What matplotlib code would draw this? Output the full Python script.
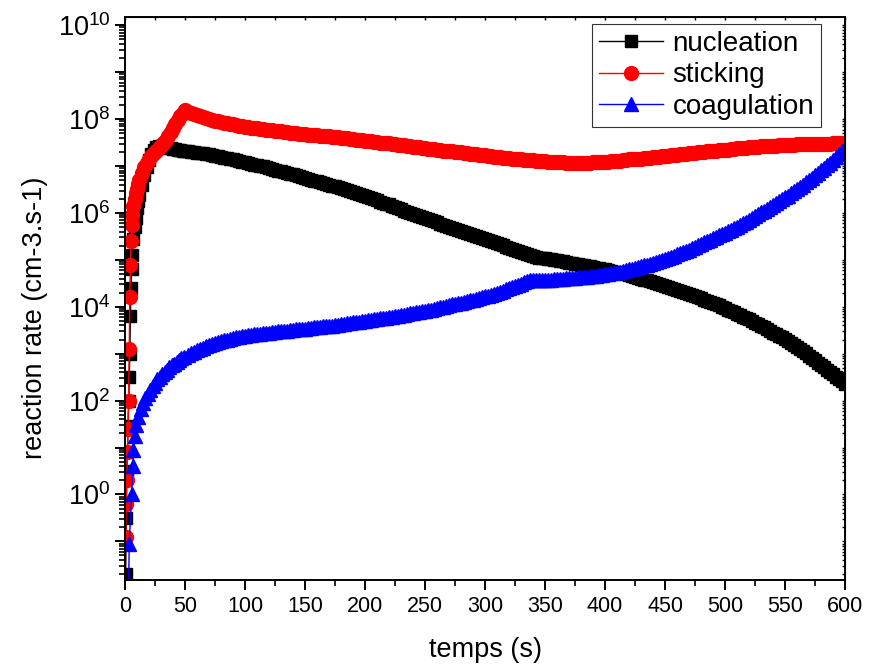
import numpy as np
import matplotlib
matplotlib.use("Agg")
import matplotlib.pyplot as plt
from matplotlib.ticker import LogLocator, MultipleLocator, FuncFormatter, NullFormatter

OUTPUT = "out.png"

plt.rcParams["font.family"] = ["Liberation Sans", "DejaVu Sans"]
plt.rcParams["mathtext.default"] = "regular"

# time grids (s)
t_early = [0, 0.5, 1, 1.5, 2, 2.5, 3, 3.5, 4, 4.5, 5, 5.5, 6,
           7, 8, 9, 10, 11, 12,
           14, 16, 18, 20, 22, 24, 26, 28, 30, 32, 34, 36, 38, 40, 42, 44, 46, 48, 50]
t_coag_early = [2.5, 3.5, 5.5, 6.5, 7, 8.5, 9.5, 11, 13, 15, 17, 19, 21, 23, 25,
                27, 29, 31, 33, 35, 37, 39, 41, 43, 45, 47, 49]
t_late = [52.5 + 2.5 * i for i in range(220)]  # 52.5 ... 600

# log10 of the reaction rates (cm-3.s-1)
nucleation_early = [-3.0, -1.7, -0.5, 0.5, 0.9, 1.45, 2.0, 2.5, 3.0, 3.8, 4.4, 4.8, 5.1,
                    5.45, 5.7, 5.9, 6.1, 6.25, 6.38,
                    6.6, 6.8, 6.98, 7.13, 7.26, 7.35, 7.40, 7.42, 7.42, 7.41, 7.40, 7.39,
                    7.38, 7.37, 7.36, 7.35, 7.34, 7.33, 7.32]
nucleation_late = [
    7.31, 7.30, 7.29, 7.28, 7.27, 7.27, 7.26, 7.25, 7.24, 7.22,   # 52.5 - 75
    7.21, 7.20, 7.18, 7.17, 7.15, 7.14, 7.12, 7.11, 7.09, 7.08,   # 77.5 - 100
    7.06, 7.05, 7.03, 7.02, 7.00, 6.99, 6.97, 6.95, 6.93, 6.92,   # 102.5 - 125
    6.90, 6.89, 6.87, 6.85, 6.83, 6.82, 6.80, 6.78, 6.76, 6.74,   # 127.5 - 150
    6.72, 6.71, 6.69, 6.68, 6.66, 6.64, 6.62, 6.60, 6.58, 6.57,   # 152.5 - 175
    6.55, 6.53, 6.51, 6.49, 6.47, 6.45, 6.43, 6.41, 6.38, 6.36,   # 177.5 - 200
    6.33, 6.31, 6.29, 6.27, 6.24, 6.22, 6.20, 6.18, 6.15, 6.13,   # 202.5 - 225
    6.10, 6.08, 6.05, 6.03, 6.00, 5.98, 5.96, 5.94, 5.91, 5.89,   # 227.5 - 250
    5.87, 5.85, 5.82, 5.80, 5.77, 5.75, 5.73, 5.71, 5.68, 5.66,   # 252.5 - 275
    5.64, 5.62, 5.59, 5.57, 5.55, 5.53, 5.50, 5.48, 5.46, 5.44,   # 277.5 - 300
    5.42, 5.40, 5.37, 5.35, 5.33, 5.31, 5.28, 5.26, 5.24, 5.22,   # 302.5 - 325
    5.19, 5.17, 5.15, 5.13, 5.10, 5.08, 5.06, 5.05, 5.04, 5.03,   # 327.5 - 350
    5.02, 5.01, 5.00, 4.99, 4.98, 4.97, 4.95, 4.94, 4.93, 4.92,   # 352.5 - 375
    4.91, 4.90, 4.88, 4.87, 4.86, 4.85, 4.83, 4.82, 4.81, 4.80,   # 377.5 - 400
    4.78, 4.77, 4.75, 4.74, 4.72, 4.71, 4.69, 4.67, 4.65, 4.64,   # 402.5 - 425
    4.62, 4.60, 4.58, 4.56, 4.54, 4.52, 4.50, 4.48, 4.46, 4.44,   # 427.5 - 450
    4.42, 4.40, 4.38, 4.36, 4.34, 4.32, 4.30, 4.28, 4.25, 4.23,   # 452.5 - 475
    4.20, 4.18, 4.15, 4.13, 4.10, 4.08, 4.05, 4.03, 4.00, 3.97,   # 477.5 - 500
    3.94, 3.91, 3.88, 3.85, 3.82, 3.79, 3.76, 3.73, 3.70, 3.66,   # 502.5 - 525
    3.63, 3.59, 3.56, 3.52, 3.49, 3.45, 3.42, 3.38, 3.35, 3.31,   # 527.5 - 550
    3.27, 3.23, 3.19, 3.15, 3.11, 3.06, 3.01, 2.96, 2.91, 2.86,   # 552.5 - 575
    2.81, 2.76, 2.71, 2.66, 2.61, 2.56, 2.51, 2.46, 2.41, 2.35,   # 577.5 - 600
]

sticking_early = [-3.0, -0.9, -0.2, 0.3, 0.9, 1.4, 2.0, 3.1, 4.2, 4.9, 5.4, 5.75, 5.95,
                  6.15, 6.3, 6.42, 6.52, 6.62, 6.70,
                  6.85, 6.97, 7.07, 7.15, 7.22, 7.28, 7.33, 7.38, 7.43, 7.49, 7.56, 7.64,
                  7.72, 7.81, 7.90, 7.98, 8.06, 8.13, 8.19]
sticking_late = [
    8.16, 8.13, 8.10, 8.08, 8.06, 8.04, 8.02, 8.00, 7.98, 7.97,   # 52.5 - 75
    7.95, 7.94, 7.92, 7.91, 7.90, 7.89, 7.87, 7.86, 7.85, 7.84,   # 77.5 - 100
    7.83, 7.82, 7.81, 7.80, 7.79, 7.78, 7.77, 7.77, 7.76, 7.75,   # 102.5 - 125
    7.74, 7.74, 7.73, 7.72, 7.71, 7.71, 7.70, 7.69, 7.68, 7.68,   # 127.5 - 150
    7.67, 7.67, 7.66, 7.66, 7.65, 7.64, 7.63, 7.63, 7.62, 7.62,   # 152.5 - 175
    7.61, 7.60, 7.59, 7.59, 7.58, 7.57, 7.56, 7.56, 7.55, 7.54,   # 177.5 - 200
    7.53, 7.53, 7.52, 7.51, 7.50, 7.50, 7.49, 7.48, 7.47, 7.46,   # 202.5 - 225
    7.45, 7.45, 7.44, 7.43, 7.42, 7.41, 7.40, 7.40, 7.39, 7.38,   # 227.5 - 250
    7.37, 7.37, 7.36, 7.35, 7.34, 7.33, 7.32, 7.32, 7.31, 7.30,   # 252.5 - 275
    7.29, 7.29, 7.28, 7.27, 7.26, 7.26, 7.25, 7.24, 7.23, 7.23,   # 277.5 - 300
    7.22, 7.21, 7.20, 7.20, 7.19, 7.18, 7.17, 7.17, 7.16, 7.15,   # 302.5 - 325
    7.14, 7.14, 7.13, 7.13, 7.12, 7.12, 7.11, 7.11, 7.10, 7.10,   # 327.5 - 350
    7.09, 7.09, 7.08, 7.08, 7.08, 7.08, 7.07, 7.07, 7.07, 7.07,   # 352.5 - 375
    7.07, 7.07, 7.07, 7.07, 7.07, 7.08, 7.08, 7.08, 7.08, 7.09,   # 377.5 - 400
    7.09, 7.10, 7.10, 7.11, 7.11, 7.12, 7.13, 7.14, 7.14, 7.15,   # 402.5 - 425
    7.15, 7.16, 7.17, 7.18, 7.18, 7.19, 7.19, 7.20, 7.21, 7.22,   # 427.5 - 450
    7.22, 7.23, 7.23, 7.24, 7.25, 7.26, 7.26, 7.27, 7.27, 7.28,   # 452.5 - 475
    7.29, 7.30, 7.30, 7.31, 7.32, 7.33, 7.33, 7.34, 7.34, 7.35,   # 477.5 - 500
    7.35, 7.36, 7.37, 7.38, 7.38, 7.39, 7.39, 7.40, 7.40, 7.41,   # 502.5 - 525
    7.41, 7.42, 7.42, 7.43, 7.43, 7.43, 7.43, 7.44, 7.44, 7.45,   # 527.5 - 550
    7.45, 7.45, 7.45, 7.46, 7.46, 7.46, 7.46, 7.47, 7.47, 7.47,   # 552.5 - 575
    7.47, 7.47, 7.47, 7.47, 7.47, 7.48, 7.48, 7.48, 7.48, 7.48,   # 577.5 - 600
]

coagulation_early = [-3.0, -1.05, 0.0, 0.6, 0.95, 1.25, 1.48, 1.66, 1.82, 1.95, 2.06,
                     2.15, 2.23, 2.31, 2.38, 2.45, 2.51, 2.56, 2.61, 2.66, 2.71, 2.75,
                     2.79, 2.83, 2.86, 2.90, 2.93]
coagulation_late = [
    2.98, 3.01, 3.04, 3.07, 3.10, 3.13, 3.16, 3.18, 3.21, 3.23,   # 52.5 - 75
    3.25, 3.27, 3.29, 3.30, 3.32, 3.33, 3.35, 3.36, 3.37, 3.38,   # 77.5 - 100
    3.39, 3.40, 3.41, 3.42, 3.43, 3.44, 3.45, 3.45, 3.46, 3.47,   # 102.5 - 125
    3.48, 3.48, 3.49, 3.49, 3.50, 3.51, 3.52, 3.52, 3.53, 3.53,   # 127.5 - 150
    3.54, 3.55, 3.56, 3.56, 3.57, 3.58, 3.59, 3.59, 3.60, 3.61,   # 152.5 - 175
    3.62, 3.63, 3.64, 3.65, 3.66, 3.67, 3.68, 3.68, 3.69, 3.70,   # 177.5 - 200
    3.71, 3.72, 3.73, 3.74, 3.75, 3.76, 3.77, 3.78, 3.79, 3.80,   # 202.5 - 225
    3.81, 3.82, 3.83, 3.84, 3.86, 3.87, 3.88, 3.89, 3.91, 3.92,   # 227.5 - 250
    3.93, 3.94, 3.96, 3.97, 3.99, 4.00, 4.02, 4.03, 4.05, 4.06,   # 252.5 - 275
    4.08, 4.09, 4.11, 4.12, 4.14, 4.15, 4.17, 4.19, 4.21, 4.22,   # 277.5 - 300
    4.24, 4.26, 4.28, 4.30, 4.32, 4.34, 4.37, 4.39, 4.42, 4.44,   # 302.5 - 325
    4.47, 4.49, 4.52, 4.54, 4.56, 4.57, 4.57, 4.57, 4.58, 4.58,   # 327.5 - 350
    4.58, 4.58, 4.59, 4.59, 4.60, 4.60, 4.61, 4.61, 4.62, 4.62,   # 352.5 - 375
    4.63, 4.63, 4.64, 4.64, 4.65, 4.65, 4.66, 4.67, 4.68, 4.69,   # 377.5 - 400
    4.70, 4.71, 4.72, 4.74, 4.75, 4.77, 4.78, 4.80, 4.81, 4.83,   # 402.5 - 425
    4.85, 4.87, 4.88, 4.90, 4.92, 4.94, 4.96, 4.98, 5.00, 5.02,   # 427.5 - 450
    5.04, 5.07, 5.09, 5.12, 5.14, 5.17, 5.19, 5.22, 5.25, 5.28,   # 452.5 - 475
    5.31, 5.34, 5.37, 5.40, 5.43, 5.46, 5.49, 5.52, 5.55, 5.58,   # 477.5 - 500
    5.61, 5.64, 5.67, 5.71, 5.74, 5.78, 5.81, 5.85, 5.89, 5.93,   # 502.5 - 525
    5.97, 6.01, 6.05, 6.09, 6.13, 6.17, 6.21, 6.25, 6.29, 6.33,   # 527.5 - 550
    6.37, 6.42, 6.46, 6.51, 6.55, 6.60, 6.65, 6.70, 6.75, 6.80,   # 552.5 - 575
    6.85, 6.91, 6.96, 7.02, 7.07, 7.13, 7.19, 7.25, 7.31, 7.37,   # 577.5 - 600
]


def series(t_a, v_a, t_b, v_b):
    t = np.array(t_a + t_b, dtype=float)
    v = 10.0 ** np.array(v_a + v_b)
    return t, v


def decade_label(value, pos):
    e = int(round(np.log10(value)))
    if e % 2:
        return ""
    return "$10^{%d}$" % e


def main():
    fig = plt.figure(figsize=(8.7, 6.69), dpi=100)
    ax = fig.add_axes([0.1437, 0.1330, 0.8276, 0.8416])

    t, v = series(t_early, nucleation_early, t_late, nucleation_late)
    ax.plot(t, v, color="black", lw=1, marker="s", ms=9, mec="black", label="nucleation")
    t, v = series(t_early, sticking_early, t_late, sticking_late)
    ax.plot(t, v, color="red", lw=1, marker="o", ms=10, mec="red", label="sticking")
    t, v = series(t_coag_early, coagulation_early, t_late, coagulation_late)
    ax.plot(t, v, color="blue", lw=1, marker="^", ms=10, mec="blue", label="coagulation")

    ax.set_yscale("log")
    ax.set_xlim(0, 600)
    ax.set_ylim(0.015, 1.5e10)

    ax.xaxis.set_major_locator(MultipleLocator(50))
    ax.xaxis.set_minor_locator(MultipleLocator(25))
    ax.yaxis.set_major_locator(LogLocator(base=10, numticks=30))
    ax.yaxis.set_minor_locator(LogLocator(base=10, subs=np.arange(2, 10), numticks=30))
    ax.yaxis.set_major_formatter(FuncFormatter(decade_label))
    ax.yaxis.set_minor_formatter(NullFormatter())

    ax.tick_params(which="major", length=7.5, width=1.4)
    ax.tick_params(axis="x", which="major", labelsize=15.5, pad=4)
    ax.tick_params(axis="y", which="major", labelsize=19.5, pad=3)
    ax.tick_params(which="minor", length=4, width=1.2)
    for s in ax.spines.values():
        s.set_linewidth(1.4)

    # small inward ticks on the top and right frame
    top = ax.secondary_xaxis("top")
    top.xaxis.set_major_locator(MultipleLocator(25))
    top.tick_params(direction="in", length=2, width=1, labeltop=False)
    right = ax.secondary_yaxis("right")
    right.yaxis.set_major_locator(LogLocator(base=10, numticks=30))
    right.yaxis.set_minor_locator(LogLocator(base=10, subs=np.arange(2, 10), numticks=30))
    right.tick_params(which="both", direction="in", length=2, width=1, labelright=False)

    ax.set_xlabel("temps (s)", fontsize=19.5)
    ax.set_ylabel("reaction rate (cm-3.s-1)", fontsize=19.5)
    ax.xaxis.set_label_coords(0.5, -0.124)
    ax.xaxis.label.set_va("center")
    ax.yaxis.set_label_coords(-0.125, 0.466)
    ax.yaxis.label.set_va("center")

    leg = ax.legend(loc="upper right", bbox_to_anchor=(0.9667, 0.9876), borderaxespad=0,
                    fontsize=20, handlelength=2.3, handletextpad=0.33, labelspacing=0.2,
                    borderpad=0.25, fancybox=False, numpoints=1)
    leg.get_frame().set_edgecolor("black")
    leg.get_frame().set_linewidth(0.8)

    fig.savefig(OUTPUT, dpi=100, facecolor="white")
    plt.close(fig)


if __name__ == "__main__":
    main()
